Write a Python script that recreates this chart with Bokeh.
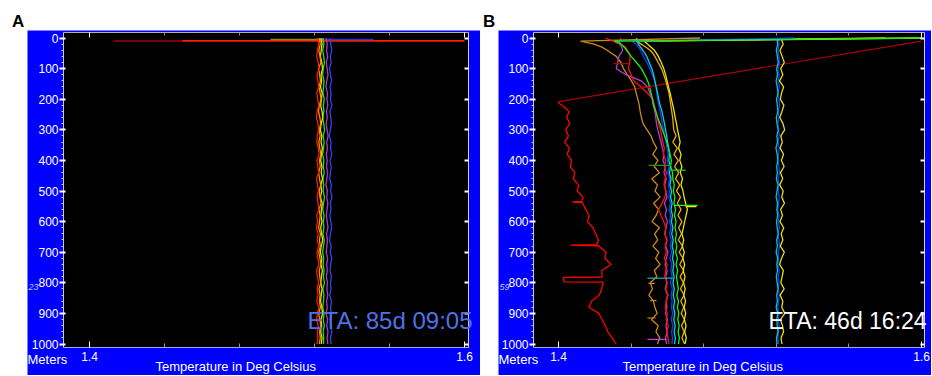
from bokeh.plotting import figure
from bokeh.models import Range1d, FixedTicker, LinearAxis, Label, Div, Spacer, BoxAnnotation
from bokeh.layouts import row, column
from bokeh.embed import file_html
from bokeh.resources import INLINE

# ---------------- data ----------------
Y_TICKS = [0, 100, 200, 300, 400, 500, 600, 700, 800, 900, 1000]
X_LABEL_TICKS = [1.4, 1.6]
X_MINOR_TICKS = [1.44, 1.48, 1.52, 1.56]

DEPTH_A = [0, 20, 40, 60, 80, 100, 120, 140, 160, 180,
           200, 220, 240, 260, 280, 300, 320, 340, 360, 380,
           400, 420, 440, 460, 480, 500, 520, 540, 560, 580,
           600, 620, 640, 660, 680, 700, 720, 740, 760, 780,
           800, 820, 840, 860, 880, 900, 920, 940, 960, 980,
           1000]

# Panel A profiles
A_RED = [1.5214, 1.5222, 1.5216, 1.5211, 1.5220, 1.5224, 1.5213, 1.5218, 1.5222, 1.5212,
         1.5217, 1.5223, 1.5214, 1.5210, 1.5219, 1.5221, 1.5215, 1.5212, 1.5220, 1.5224,
         1.5213, 1.5218, 1.5222, 1.5211, 1.5216, 1.5221, 1.5214, 1.5219, 1.5223, 1.5212,
         1.5217, 1.5210, 1.5220, 1.5215, 1.5222, 1.5213, 1.5218, 1.5224, 1.5211, 1.5216,
         1.5221, 1.5214, 1.5219, 1.5212, 1.5223, 1.5216, 1.5210, 1.5220, 1.5215, 1.5218,
         1.5213]
A_ORANGE = [1.5225, 1.5231, 1.5223, 1.5229, 1.5234, 1.5222, 1.5227, 1.5232, 1.5224, 1.5230,
            1.5235, 1.5226, 1.5221, 1.5229, 1.5233, 1.5225, 1.5230, 1.5223, 1.5228, 1.5234,
            1.5226, 1.5231, 1.5222, 1.5227, 1.5233, 1.5225, 1.5229, 1.5235, 1.5224, 1.5230,
            1.5227, 1.5222, 1.5232, 1.5226, 1.5231, 1.5223, 1.5229, 1.5234, 1.5225, 1.5228,
            1.5233, 1.5224, 1.5230, 1.5226, 1.5232, 1.5222, 1.5228, 1.5234, 1.5227, 1.5231,
            1.5225]
A_YELLOW = [1.5234, 1.5240, 1.5236, 1.5231, 1.5239, 1.5243, 1.5235, 1.5238, 1.5232, 1.5241,
            1.5237, 1.5233, 1.5240, 1.5244, 1.5236, 1.5231, 1.5239, 1.5235, 1.5242, 1.5237,
            1.5233, 1.5240, 1.5236, 1.5243, 1.5234, 1.5238, 1.5232, 1.5241, 1.5237, 1.5235,
            1.5240, 1.5233, 1.5238, 1.5244, 1.5236, 1.5231, 1.5239, 1.5235, 1.5242, 1.5237,
            1.5234, 1.5240, 1.5236, 1.5232, 1.5239, 1.5243, 1.5235, 1.5238, 1.5233, 1.5240,
            1.5236]
A_GREEN = [1.5246, 1.5250, 1.5244, 1.5249, 1.5253, 1.5247, 1.5243, 1.5251, 1.5248, 1.5245,
           1.5252, 1.5247, 1.5250, 1.5244, 1.5249, 1.5254, 1.5246, 1.5251, 1.5248, 1.5243,
           1.5250, 1.5247, 1.5252, 1.5245, 1.5249, 1.5246, 1.5253, 1.5248, 1.5244, 1.5251,
           1.5247, 1.5250, 1.5245, 1.5252, 1.5248, 1.5243, 1.5249, 1.5246, 1.5251, 1.5247,
           1.5253, 1.5245, 1.5250, 1.5248, 1.5244, 1.5251, 1.5247, 1.5252, 1.5246, 1.5249,
           1.5248]
A_PURPLE = [1.5262, 1.5268, 1.5264, 1.5270, 1.5263, 1.5267, 1.5272, 1.5265, 1.5261, 1.5269,
            1.5266, 1.5271, 1.5264, 1.5268, 1.5262, 1.5267, 1.5273, 1.5265, 1.5269, 1.5263,
            1.5268, 1.5264, 1.5270, 1.5266, 1.5261, 1.5269, 1.5265, 1.5271, 1.5267, 1.5263,
            1.5268, 1.5272, 1.5264, 1.5269, 1.5266, 1.5262, 1.5270, 1.5265, 1.5268, 1.5263,
            1.5269, 1.5266, 1.5271, 1.5264, 1.5268, 1.5262, 1.5270, 1.5265, 1.5272, 1.5267,
            1.5271]
A_BLUE = [1.5281, 1.5287, 1.5292, 1.5284, 1.5289, 1.5280, 1.5286, 1.5291, 1.5283, 1.5288,
          1.5285, 1.5293, 1.5282, 1.5287, 1.5290, 1.5284, 1.5279, 1.5288, 1.5286, 1.5292,
          1.5283, 1.5289, 1.5285, 1.5281, 1.5290, 1.5286, 1.5293, 1.5284, 1.5288, 1.5282,
          1.5287, 1.5291, 1.5285, 1.5280, 1.5289, 1.5284, 1.5292, 1.5286, 1.5283, 1.5290,
          1.5285, 1.5288, 1.5281, 1.5291, 1.5286, 1.5289, 1.5283, 1.5287, 1.5292, 1.5285,
          1.5288]
A_PROFILE_COLORS = ["#3a3aff", "#a040c8", "#22e022", "#f2dc00", "#ff8c00", "#ff1a00"]

# Panel A surface streaks
A_SURF_D = [10, 9, 5, 5]
A_SURF_T0 = [1.4128, 1.4496, 1.4965, 1.5250]
A_SURF_T1 = [1.6000, 1.6000, 1.5250, 1.5515]
A_SURF_C = ["#a00000", "#ff2000", "#8a8a20", "#3030d0"]

# Panel B: straight cluster near 1.52
B_CYAN2 = [1.5203, 1.5208, 1.5200, 1.5206, 1.5211, 1.5202, 1.5207, 1.5199, 1.5205, 1.5210,
           1.5201, 1.5206, 1.5209, 1.5200, 1.5204, 1.5211, 1.5203, 1.5207, 1.5198, 1.5205,
           1.5209, 1.5202, 1.5206, 1.5200, 1.5210, 1.5204, 1.5199, 1.5207, 1.5203, 1.5208,
           1.5201, 1.5205, 1.5211, 1.5202, 1.5206, 1.5199, 1.5208, 1.5203, 1.5207, 1.5200,
           1.5205, 1.5210, 1.5202, 1.5206, 1.5199, 1.5208, 1.5203, 1.5205, 1.5209, 1.5201,
           1.5204]
B_BLUE2 = [1.5211, 1.5216, 1.5209, 1.5214, 1.5218, 1.5210, 1.5215, 1.5212, 1.5217, 1.5209,
           1.5214, 1.5219, 1.5211, 1.5215, 1.5208, 1.5213, 1.5217, 1.5210, 1.5216, 1.5212,
           1.5209, 1.5215, 1.5218, 1.5211, 1.5214, 1.5210, 1.5216, 1.5213, 1.5208, 1.5215,
           1.5212, 1.5217, 1.5210, 1.5214, 1.5219, 1.5211, 1.5213, 1.5209, 1.5216, 1.5212,
           1.5215, 1.5210, 1.5217, 1.5213, 1.5208, 1.5214, 1.5211, 1.5216, 1.5212, 1.5209,
           1.5213]
B_YELLOW2 = [1.5226, 1.5238, 1.5220, 1.5232, 1.5244, 1.5224, 1.5236, 1.5218, 1.5240, 1.5229,
             1.5222, 1.5242, 1.5231, 1.5219, 1.5237, 1.5246, 1.5225, 1.5233, 1.5221, 1.5240,
             1.5228, 1.5243, 1.5223, 1.5235, 1.5219, 1.5238, 1.5230, 1.5245, 1.5224, 1.5234,
             1.5220, 1.5241, 1.5227, 1.5236, 1.5222, 1.5244, 1.5229, 1.5218, 1.5239, 1.5232,
             1.5225, 1.5243, 1.5221, 1.5236, 1.5230, 1.5247, 1.5223, 1.5234, 1.5240, 1.5226,
             1.5231]

# Panel B: bundle of curved profiles
DEPTH_B = [0, 10, 20, 30, 40, 50, 60, 80, 100, 120,
           140, 160, 180, 200, 220, 240, 260, 280, 300, 320,
           340, 360, 380, 400, 420, 440, 460, 480, 500, 520,
           540, 560, 580, 600, 620, 640, 660, 680, 700, 720,
           740, 760, 780, 800, 820, 840, 860, 880, 900, 920,
           940, 960, 980, 1000]
B_ORANGE = [1.4780, 1.4121, 1.4195, 1.4240, 1.4268, 1.4292, 1.4318, 1.4344, 1.4358, 1.4379,
            1.4402, 1.4420, 1.4428, 1.4437, 1.4445, 1.4450, 1.4457, 1.4466, 1.4488, 1.4510,
            1.4523, 1.4541, 1.4519, 1.4548, 1.4527, 1.4556, 1.4514, 1.4545, 1.4532, 1.4560,
            1.4524, 1.4551, 1.4538, 1.4515, 1.4556, 1.4529, 1.4547, 1.4520, 1.4553, 1.4535,
            1.4560, 1.4528, 1.4542, 1.4505, 1.4518, 1.4498, 1.4523, 1.4531, 1.4544, 1.4512,
            1.4550, 1.4537, 1.4558, 1.4545]
B_GOLD = [1.5800, 1.4430, 1.4455, 1.4482, 1.4505, 1.4520, 1.4531, 1.4549, 1.4568, 1.4580,
          1.4591, 1.4600, 1.4609, 1.4614, 1.4619, 1.4624, 1.4629, 1.4632, 1.4635, 1.4648,
          1.4630, 1.4655, 1.4636, 1.4660, 1.4640, 1.4662, 1.4645, 1.4668, 1.4650, 1.4672,
          1.4655, 1.4675, 1.4658, 1.4680, 1.4662, 1.4678, 1.4660, 1.4684, 1.4665, 1.4686,
          1.4668, 1.4690, 1.4670, 1.4688, 1.4672, 1.4692, 1.4674, 1.4690, 1.4676, 1.4694,
          1.4678, 1.4692, 1.4680, 1.4695]
B_YELLOW = [1.6000, 1.4470, 1.4490, 1.4510, 1.4528, 1.4540, 1.4550, 1.4566, 1.4580, 1.4590,
            1.4598, 1.4606, 1.4615, 1.4622, 1.4630, 1.4637, 1.4643, 1.4650, 1.4656, 1.4663,
            1.4670, 1.4662, 1.4675, 1.4668, 1.4680, 1.4671, 1.4683, 1.4675, 1.4686, 1.4692,
            1.4700, 1.4710, 1.4703, 1.4695, 1.4688, 1.4680, 1.4690, 1.4682, 1.4693, 1.4685,
            1.4695, 1.4687, 1.4697, 1.4689, 1.4698, 1.4690, 1.4700, 1.4692, 1.4701, 1.4693,
            1.4703, 1.4695, 1.4704, 1.4697]
B_MAGENTA = [1.4345, 1.4336, 1.4340, 1.4348, 1.4354, 1.4343, 1.4332, 1.4326, 1.4318, 1.4372,
             1.4455, 1.4492, 1.4503, 1.4516, 1.4522, 1.4531, 1.4536, 1.4540, 1.4547, 1.4556,
             1.4565, 1.4572, 1.4580, 1.4576, 1.4588, 1.4581, 1.4594, 1.4585, 1.4590, 1.4598,
             1.4583, 1.4595, 1.4588, 1.4600, 1.4592, 1.4586, 1.4598, 1.4590, 1.4603, 1.4594,
             1.4587, 1.4599, 1.4591, 1.4596, 1.4588, 1.4601, 1.4593, 1.4597, 1.4589, 1.4600,
             1.4592, 1.4598, 1.4590, 1.4595]
B_RED = [1.4259, 1.4300, 1.4340, 1.4369, 1.4380, 1.4390, 1.4395, 1.4392, 1.4385, 1.4400,
         1.4415, 1.4455, 1.4490, 1.4520, 1.4528, 1.4537, 1.4545, 1.4552, 1.4562, 1.4568,
         1.4575, 1.4583, 1.4578, 1.4590, 1.4584, 1.4595, 1.4587, 1.4581, 1.4593, 1.4586,
         1.4570, 1.4552, 1.4565, 1.4580, 1.4592, 1.4585, 1.4597, 1.4588, 1.4594, 1.4583,
         1.4598, 1.4590, 1.4586, 1.4599, 1.4591, 1.4603, 1.4594, 1.4588, 1.4600, 1.4593,
         1.4605, 1.4597, 1.4603, 1.4609]
B_BLUE = [1.5300, 1.4405, 1.4425, 1.4440, 1.4452, 1.4460, 1.4467, 1.4487, 1.4503, 1.4517,
          1.4530, 1.4537, 1.4542, 1.4546, 1.4553, 1.4560, 1.4566, 1.4572, 1.4579, 1.4585,
          1.4592, 1.4598, 1.4604, 1.4599, 1.4609, 1.4602, 1.4613, 1.4606, 1.4611, 1.4608,
          1.4617, 1.4609, 1.4618, 1.4612, 1.4620, 1.4611, 1.4621, 1.4616, 1.4623, 1.4614,
          1.4624, 1.4619, 1.4626, 1.4617, 1.4627, 1.4620, 1.4626, 1.4622, 1.4629, 1.4621,
          1.4630, 1.4623, 1.4628, 1.4625]
B_CYAN = [1.4430, 1.4432, 1.4440, 1.4452, 1.4465, 1.4476, 1.4486, 1.4500, 1.4514, 1.4524,
          1.4531, 1.4538, 1.4546, 1.4552, 1.4560, 1.4570, 1.4577, 1.4584, 1.4590, 1.4596,
          1.4601, 1.4607, 1.4612, 1.4608, 1.4617, 1.4611, 1.4620, 1.4614, 1.4623, 1.4617,
          1.4626, 1.4620, 1.4628, 1.4622, 1.4630, 1.4624, 1.4632, 1.4626, 1.4634, 1.4628,
          1.4636, 1.4630, 1.4637, 1.4631, 1.4638, 1.4632, 1.4640, 1.4634, 1.4641, 1.4635,
          1.4643, 1.4637, 1.4644, 1.4639]
B_GREEN = [1.6000, 1.4310, 1.4345, 1.4362, 1.4375, 1.4388, 1.4400, 1.4430, 1.4457, 1.4475,
           1.4491, 1.4502, 1.4510, 1.4518, 1.4525, 1.4536, 1.4546, 1.4560, 1.4572, 1.4585,
           1.4597, 1.4606, 1.4615, 1.4622, 1.4618, 1.4628, 1.4630, 1.4638, 1.4633, 1.4641,
           1.4636, 1.4645, 1.4639, 1.4648, 1.4642, 1.4650, 1.4644, 1.4652, 1.4646, 1.4655,
           1.4648, 1.4657, 1.4650, 1.4655, 1.4660, 1.4652, 1.4661, 1.4655, 1.4663, 1.4657,
           1.4665, 1.4659, 1.4666, 1.4661]
B_BUNDLE_COLORS = ["#cc8a1e", "#f0aa00", "#e8e800", "#b040c8", "#ff1010", "#1838ff", "#00d8d8", "#18f018"]

# Panel B: spikes (horizontal excursions)
B_SPIKE_D = [84, 161, 416, 432, 547, 551, 785, 802, 858, 915, 985]
B_SPIKE_T0 = [1.4392, 1.4455, 1.4620, 1.4628, 1.4640, 1.4700, 1.4631, 1.4530, 1.4540, 1.4535, 1.4595]
B_SPIKE_T1 = [1.4303, 1.4507, 1.4496, 1.4700, 1.4766, 1.4760, 1.4490, 1.4496, 1.4505, 1.4490, 1.4490]
B_SPIKE_C = ["#b00000", "#b00000", "#109a10", "#18e018", "#30f020", "#e8e800",
             "#20a8a8", "#c88a20", "#c88a20", "#b07818", "#c040c8"]

# Panel B: far-left red profile and its diagonal link to the surface
B_DIAG_T = [1.6000, 1.3996]
B_DIAG_D = [10, 209]
B_LEFT_D = [210, 222, 240, 260, 280, 300, 320, 340, 360, 380,
            400, 420, 440, 460, 480, 500, 520, 534, 536, 538,
            560, 580, 600, 620, 640, 660, 675, 677, 679, 700,
            720, 740, 760, 781, 782, 797, 798, 820, 840, 860,
            880, 900, 920, 940, 960, 980, 1000]
B_LEFT_T = [1.3996, 1.4025, 1.4058, 1.4046, 1.4062, 1.4040, 1.4055, 1.4034, 1.4060, 1.4048,
            1.4072, 1.4064, 1.4090, 1.4082, 1.4110, 1.4104, 1.4135, 1.4128, 1.4077, 1.4132,
            1.4150, 1.4168, 1.4160, 1.4190, 1.4205, 1.4220, 1.4212, 1.4066, 1.4220, 1.4262,
            1.4255, 1.4290, 1.4238, 1.4240, 1.4028, 1.4030, 1.4245, 1.4238, 1.4225, 1.4182,
            1.4168, 1.4222, 1.4240, 1.4258, 1.4272, 1.4295, 1.4318]

FONT = "Liberation Sans"
BLUE_BG = "#0000ff"

# ---------------- geometry (page pixels) ----------------
CANVAS_TOP, CANVAS_BOTTOM = 30, 375
BOX_TOP, BOX_BOTTOM = 32, 347          # black plotting area
Y0_PX, Y1000_PX = 37.5, 343.5          # where depth 0 and 1000 fall


def depth_at(py):
    return (py - Y0_PX) * 1000.0 / (Y1000_PX - Y0_PX)


def make_panel(canvas_left, canvas_right, box_left, box_right, t14_px, t16_px):
    def temp_at(px):
        return 1.4 + (px - t14_px) * 0.2 / (t16_px - t14_px)

    xb0, xb1 = temp_at(box_left), temp_at(box_right)
    yb0, yb1 = depth_at(BOX_TOP), depth_at(BOX_BOTTOM)
    p = figure(width=canvas_right - canvas_left, height=CANVAS_BOTTOM - CANVAS_TOP,
               output_backend="svg", toolbar_location=None,
               x_range=Range1d(temp_at(canvas_left), temp_at(canvas_right)),
               y_range=Range1d(depth_at(CANVAS_BOTTOM), depth_at(CANVAS_TOP)),
               x_axis_location=None, y_axis_location=None,
               min_border=0, min_border_left=0, min_border_right=0,
               min_border_top=0, min_border_bottom=0)
    p.background_fill_color = BLUE_BG
    p.border_fill_color = BLUE_BG
    p.outline_line_color = None
    p.grid.visible = False

    p.add_layout(BoxAnnotation(left=xb0, right=xb1, top=yb0, bottom=yb1, fill_color="black",
                               fill_alpha=1.0, line_color=None, level="underlay"))

    bottom = LinearAxis(fixed_location=yb1, bounds=(xb0, xb1),
                        ticker=FixedTicker(ticks=X_LABEL_TICKS, minor_ticks=X_MINOR_TICKS),
                        major_tick_in=6, major_tick_out=0, minor_tick_in=4, minor_tick_out=0,
                        major_tick_line_color="white", minor_tick_line_color="#9a9a9a",
                        axis_line_color="#a8a8e8", major_label_text_color="white",
                        major_label_text_font=FONT, major_label_text_font_size="12px",
                        major_label_standoff=4)
    p.add_layout(bottom, "below")

    left = LinearAxis(fixed_location=xb0, bounds=(yb0, yb1),
                      ticker=FixedTicker(ticks=Y_TICKS,
                                         minor_ticks=[v for v in range(20, 1000, 20) if v % 100]),
                      major_tick_out=4, major_tick_in=2, minor_tick_out=2, minor_tick_in=0,
                      major_tick_line_color="white", major_tick_line_width=2,
                      minor_tick_line_color="#c8c8c8", axis_line_color="#c8c8c8",
                      major_label_text_color="white", major_label_text_font=FONT,
                      major_label_text_font_size="12px", major_label_standoff=1)
    p.add_layout(left, "left")

    top = LinearAxis(fixed_location=yb0, bounds=(xb0, xb1),
                     ticker=FixedTicker(ticks=X_LABEL_TICKS, minor_ticks=X_MINOR_TICKS),
                     major_tick_in=5, major_tick_out=0, minor_tick_in=3, minor_tick_out=0,
                     major_tick_line_color="white", minor_tick_line_color="#909090",
                     axis_line_color="#b0b0b0", major_label_text_color=None)
    p.add_layout(top, "above")

    right = LinearAxis(fixed_location=xb1, bounds=(yb0, yb1),
                       ticker=FixedTicker(ticks=Y_TICKS, minor_ticks=[]),
                       major_tick_in=4, major_tick_out=0, minor_tick_in=0, minor_tick_out=0,
                       major_tick_line_color="white", major_tick_line_width=2,
                       axis_line_color="#d0d0d0", major_label_text_color=None)
    p.add_layout(right, "right")
    return p


def add_texts(p, canvas_left, temp_px, eta_text, eta_px, eta_size, eta_color, small_text):
    def sx(px):
        return px - canvas_left

    def sy(py):
        return CANVAS_BOTTOM - py

    common = dict(x_units="screen", y_units="screen", text_font=FONT,
                  text_align="left", text_baseline="alphabetic")
    p.add_layout(Label(x=sx(canvas_left), y=sy(359), text="Meters", text_font_size="13px",
                       text_color="white", **common))
    p.add_layout(Label(x=sx(temp_px), y=sy(366), text="Temperature in Deg Celsius",
                       text_font_size="13px", text_color="white", **common))
    p.add_layout(Label(x=sx(eta_px), y=sy(320), text=eta_text, text_font_size=eta_size,
                       text_color=eta_color, **common))
    p.add_layout(Label(x=sx(canvas_left + 1), y=sy(286), text=small_text, text_font_size="9px",
                       text_font_style="italic", text_color="#c8c8ff", **common))


# ---------------- panel A ----------------
pA = make_panel(27, 480, 63, 468, 89, 464)
pA.segment(x0=A_SURF_T0, y0=A_SURF_D, x1=A_SURF_T1, y1=A_SURF_D, line_color=A_SURF_C, line_width=1.5)
for prof, col in zip([A_BLUE, A_PURPLE, A_GREEN, A_YELLOW, A_ORANGE, A_RED], A_PROFILE_COLORS):
    pA.line(prof, DEPTH_A, line_color=col, line_width=1.3)
add_texts(pA, 27, 155, "ETA: 85d 09:05", 307, "24px", "#5070e8", "23")

# ---------------- panel B ----------------
pB = make_panel(498, 931, 533, 924, 558, 921)
pB.line(B_DIAG_T, B_DIAG_D, line_color="#b00000", line_width=1.2)
pB.line(B_LEFT_T, B_LEFT_D, line_color="#ff0000", line_width=1.3)
for prof, col in zip([B_BLUE2, B_YELLOW2, B_CYAN2], ["#1838ff", "#e8e000", "#00c8c8"]):
    pB.line(prof, DEPTH_A, line_color=col, line_width=1.3)
for prof, col in zip([B_ORANGE, B_GOLD, B_YELLOW, B_MAGENTA, B_RED, B_BLUE, B_CYAN, B_GREEN],
                     B_BUNDLE_COLORS):
    pB.line(prof, DEPTH_B, line_color=col, line_width=1.3)
pB.segment(x0=B_SPIKE_T0, y0=B_SPIKE_D, x1=B_SPIKE_T1, y1=B_SPIKE_D, line_color=B_SPIKE_C, line_width=1.3)
add_texts(pB, 498, 622, "ETA: 46d 16:24", 768, "23px", "white", "59")

# ---------------- layout ----------------
label_style = {"font-family": FONT, "font-size": "17px", "font-weight": "bold", "color": "black"}
divA = Div(text='<div style="padding-top:13px;line-height:17px">A</div>', width=471, height=30,
           margin=0, styles=label_style)
divB = Div(text='<div style="padding-top:13px;line-height:17px">B</div>', width=60, height=30,
           margin=0, styles=label_style)
top_row = row(Spacer(width=12, height=30), divA, divB)
bottom_row = row(Spacer(width=27, height=345), pA, Spacer(width=18, height=345), pB)
layout = column(top_row, bottom_row)

open("out.html", "w").write(file_html(layout, INLINE))
